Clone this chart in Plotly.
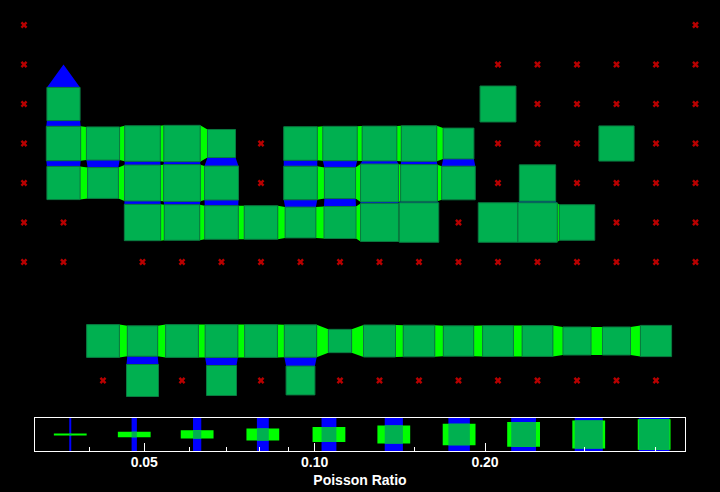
import plotly.graph_objects as go
import numpy as np

# ---------------- data ----------------
# occupied lattice sites per row: column indices and relative block size (fraction of lattice spacing)
row1_cols = [1]
row1_size = [0.0]
row2_cols = [1, 12]
row2_size = [0.84, 0.91]
row3_cols = [1, 2, 3, 4, 5, 7, 8, 9, 10, 11, 15]
row3_size = [0.87, 0.84, 0.90, 0.92, 0.71, 0.85, 0.87, 0.88, 0.90, 0.78, 0.89]
row4_cols = [1, 2, 3, 4, 5, 7, 8, 9, 10, 11, 13]
row4_size = [0.84, 0.78, 0.91, 0.93, 0.86, 0.85, 0.79, 0.96, 0.93, 0.85, 0.92]
row5_cols = [3, 4, 5, 6, 7, 8, 9, 10, 12, 13, 14]
row5_size = [0.92, 0.90, 0.85, 0.85, 0.78, 0.81, 0.96, 1.00, 1.00, 1.00, 0.90]
row8_cols = [2, 3, 4, 5, 6, 7, 8, 9, 10, 11, 12, 13, 14, 15, 16]
row8_size = [0.83, 0.77, 0.83, 0.83, 0.83, 0.82, 0.59, 0.81, 0.80, 0.77, 0.78, 0.78, 0.71, 0.71, 0.79]
row9_cols = [3, 5, 7]
row9_size = [0.81, 0.76, 0.73]

# vacant sites (red crosses) per row
vac_row0 = [0, 17]
vac_row1 = [0, 12, 13, 14, 15, 16, 17]
vac_row2 = [0, 13, 14, 15, 16, 17]
vac_row3 = [0, 6, 12, 13, 14, 16, 17]
vac_row4 = [0, 6, 12, 14, 15, 16, 17]
vac_row5 = [0, 1, 11, 15, 16, 17]
vac_row6 = [0, 1, 3, 4, 5, 6, 7, 8, 9, 10, 11, 12, 13, 14, 15, 16, 17]
vac_row9 = [2, 4, 6, 8, 9, 10, 11, 12, 13, 14, 15, 16]

# legend: Poisson ratio samples and their bond glyph size
legend_poisson = [0.037, 0.048, 0.062, 0.081, 0.106, 0.138, 0.180, 0.234, 0.305, 0.398]
legend_size = [0.06, 0.16, 0.25, 0.36, 0.45, 0.55, 0.65, 0.75, 0.85, 0.93]
major_ticks = [0.05, 0.10, 0.20]
major_labels = ["0.05", "0.10", "0.20"]
minor_ticks = [0.04, 0.06, 0.07, 0.08, 0.09, 0.15, 0.3, 0.4]

# ---------------- build geometry ----------------
rows = {1: (row1_cols, row1_size), 2: (row2_cols, row2_size), 3: (row3_cols, row3_size),
        4: (row4_cols, row4_size), 5: (row5_cols, row5_size), 8: (row8_cols, row8_size),
        9: (row9_cols, row9_size)}
sites = {}
for r, (cols, sizes) in rows.items():
    for c, s in zip(cols, sizes):
        sites[(r, c)] = s

def poly_append(xs, ys, px, py):
    xs.extend(px + [px[0], None])
    ys.extend(py + [py[0], None])

hx, hy, vx, vy, sx, sy = [], [], [], [], [], []
for (r, c), s1 in sites.items():
    if (r, c + 1) in sites:
        s2 = sites[(r, c + 1)]
        x1, x2 = c + s1 / 2, c + 1 - s2 / 2
        poly_append(hx, hy, [x1, x2, x2, x1], [r - s1 / 2, r - s2 / 2, r + s2 / 2, r + s1 / 2])
    if (r + 1, c) in sites:
        s2 = sites[(r + 1, c)]
        y1, y2 = r + s1 / 2, r + 1 - s2 / 2
        poly_append(vx, vy, [c - s1 / 2, c - s2 / 2, c + s2 / 2, c + s1 / 2], [y1, y2, y2, y1])
    poly_append(sx, sy, [c - s1 / 2, c + s1 / 2, c + s1 / 2, c - s1 / 2],
                [r - s1 / 2, r - s1 / 2, r + s1 / 2, r + s1 / 2])

vac_rows = {0: vac_row0, 1: vac_row1, 2: vac_row2, 3: vac_row3, 4: vac_row4,
            5: vac_row5, 6: vac_row6, 9: vac_row9}
mx, my = [], []
for r, cols in vac_rows.items():
    for c in cols:
        mx.append(c)
        my.append(r)

BRIGHT = "#00FF00"
BLUE = "#0000FF"
DARK = "#00B050"

fig = go.Figure()
fig.add_trace(go.Scatter(x=hx, y=hy, mode="lines", fill="toself", fillcolor=BRIGHT,
                         line=dict(width=0, color=BRIGHT), hoverinfo="skip"))
fig.add_trace(go.Scatter(x=vx, y=vy, mode="lines", fill="toself", fillcolor=BLUE,
                         line=dict(width=0, color=BLUE), hoverinfo="skip"))
fig.add_trace(go.Scatter(x=sx, y=sy, mode="lines", fill="toself", fillcolor=DARK,
                         line=dict(width=1, color="#0A7A40"), hoverinfo="skip"))
fig.add_trace(go.Scatter(x=mx, y=my, mode="markers",
                         marker=dict(symbol="x", size=6, color="#B80000", line=dict(width=0)),
                         hoverinfo="skip"))

# legend glyphs on log axis
DEC_PER_PX = 1 / 566.0
HALF_LEN = 16.4 * DEC_PER_PX
gbx, gby, ggx, ggy, gdx, gdy = [], [], [], [], [], []
for p, s in zip(legend_poisson, legend_size):
    lp = np.log10(p)
    hw = s * 33 / 2 * DEC_PER_PX
    bl, br = 10 ** (lp - hw), 10 ** (lp + hw)
    gl, gr = 10 ** (lp - HALF_LEN), 10 ** (lp + HALF_LEN)
    poly_append(gbx, gby, [bl, br, br, bl], [-0.5, -0.5, 0.5, 0.5])
    poly_append(ggx, ggy, [gl, gr, gr, gl], [-s / 2, -s / 2, s / 2, s / 2])
    poly_append(gdx, gdy, [bl, br, br, bl], [-s / 2, -s / 2, s / 2, s / 2])

for xs, ys, col in [(gbx, gby, BLUE), (ggx, ggy, BRIGHT), (gdx, gdy, DARK)]:
    fig.add_trace(go.Scatter(x=xs, y=ys, mode="lines", fill="toself", fillcolor=col,
                             line=dict(width=0, color=col), xaxis="x2", yaxis="y2",
                             hoverinfo="skip"))

FONT = "Liberation Sans, Arial, Helvetica, sans-serif"
fig.update_layout(
    width=720, height=492,
    margin=dict(l=0, r=0, t=0, b=0),
    paper_bgcolor="black", plot_bgcolor="black",
    showlegend=False, hovermode=False,
    xaxis=dict(domain=[0, 1], range=[-24 / 39.5, 696 / 39.5], visible=False),
    yaxis=dict(domain=[1 - 410 / 492, 1], range=[385 / 39.5, -25 / 39.5], visible=False),
    xaxis2=dict(domain=[35 / 720, 685 / 720], type="log", anchor="y2",
                range=[-1.4941, -0.3456], showgrid=False, zeroline=False,
                showline=True, linecolor="white", linewidth=1, mirror=True,
                tickvals=major_ticks, ticktext=major_labels,
                ticks="inside", ticklen=8, tickwidth=1, tickcolor="white",
                ticklabelstandoff=-2,
                tickfont=dict(family=FONT, size=14, color="white", weight="bold"),
                minor=dict(tickvals=minor_ticks, ticks="inside", ticklen=4,
                           tickcolor="white", tickwidth=1, showgrid=False),
                title=dict(text="Poisson Ratio", standoff=6,
                           font=dict(family=FONT, size=14, color="white", weight="bold"))),
    yaxis2=dict(domain=[1 - 451 / 492, 1 - 418 / 492], range=[-0.5, 0.5], anchor="x2",
                showgrid=False, zeroline=False, showticklabels=False, ticks="",
                showline=True, linecolor="white", linewidth=1, mirror=True),
)

fig.write_html("out.html")
